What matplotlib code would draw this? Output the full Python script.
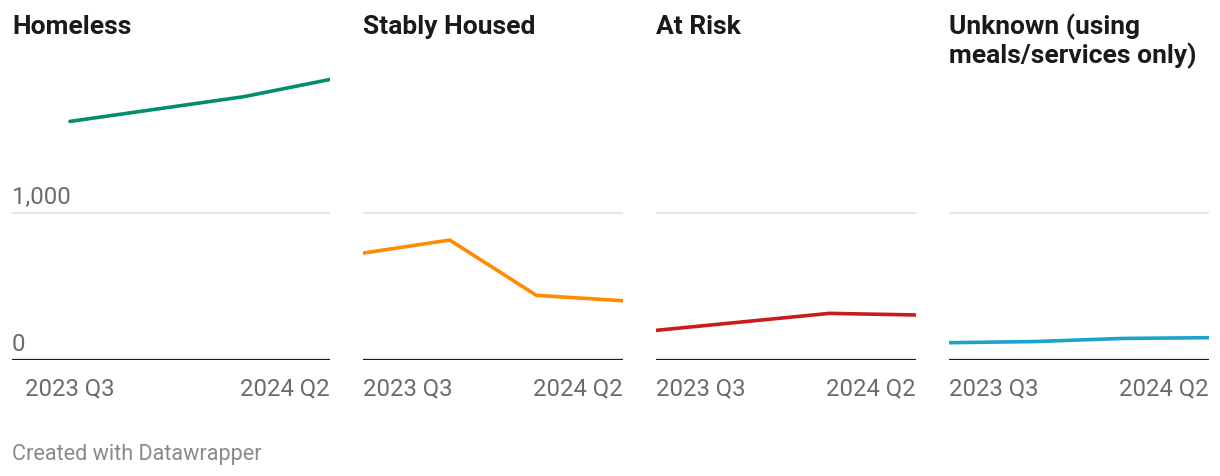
"""Small multiples: people served by housing status, 2023 Q3 - 2024 Q2."""
import matplotlib

matplotlib.use("Agg")
import matplotlib.pyplot as plt

plt.rcParams["font.family"] = ["Roboto", "DejaVu Sans"]

quarters = ["2023 Q3", "2023 Q4", "2024 Q1", "2024 Q2"]
titles = ["Homeless", "Stably Housed", "At Risk", "Unknown (using\nmeals/services only)"]
homeless = [1627, 1711, 1795, 1913]
stably_housed = [729, 818, 441, 404]
at_risk = [202, 260, 318, 307]
unknown = [118, 126, 147, 152]
series = [homeless, stably_housed, at_risk, unknown]
colors = ["#008f6b", "#ff8c00", "#c91d1d", "#1ba3cc"]
y_ticks = [0, 1000]
y_tick_labels = ["0", "1,000"]

W, H = 1220, 476
fig = plt.figure(figsize=(W / 100, H / 100), dpi=100)

# panel pixel extents (left, right) of the data area
panels = [(70, 330), (363, 623), (656, 916), (949, 1209)]
base_y, top_y = 360, 66.7
step = (panels[0][1] - panels[0][0]) / 3
tick_font = 17.2

for i, (vals, col, title) in enumerate(zip(series, colors, titles)):
    x0, x1 = panels[i]
    left_px = 12 if i == 0 else x0
    ax = fig.add_axes([left_px / W, (H - base_y) / H, (x1 - left_px) / W, (base_y - top_y) / H])
    ax.set_xlim(-(x0 - left_px) / step, 3)
    ax.set_ylim(0, 2000)
    ax.axis("off")
    ax.axhline(1000, color="#e3e3e3", lw=1.3, zorder=1)
    ax.axhline(0, color="#1a1a1a", lw=1.6, zorder=3)
    ax.plot(range(len(vals)), vals, color=col, lw=2.6, solid_capstyle="round",
            solid_joinstyle="round", zorder=2)
    for k, (xv, ha) in enumerate([(0, "center" if i == 0 else "left"), (3, "right")]):
        ax.annotate(quarters[0] if k == 0 else quarters[-1], (xv, 0), xytext=(0, -35),
                    textcoords="offset pixels", ha=ha, va="baseline",
                    fontsize=tick_font, color="#6b6b6b")
    if i == 0:
        for v, lab in zip(y_ticks, y_tick_labels):
            ax.annotate(lab, (ax.get_xlim()[0], v), xytext=(0, 9), textcoords="offset pixels",
                        ha="left", va="baseline", fontsize=tick_font, color="#6b6b6b")
    for j, line in enumerate(title.split("\n")):
        fig.text(left_px / W, 1 - (34 + 29 * j) / H, line, ha="left", va="baseline",
                 fontsize=19, fontweight="bold", color="#1a1a1a")

fig.text(12 / W, 1 - 460 / H, "Created with Datawrapper", ha="left", va="baseline",
         fontsize=15.6, color="#8a8a8a")

fig.savefig("out.png", dpi=100)
